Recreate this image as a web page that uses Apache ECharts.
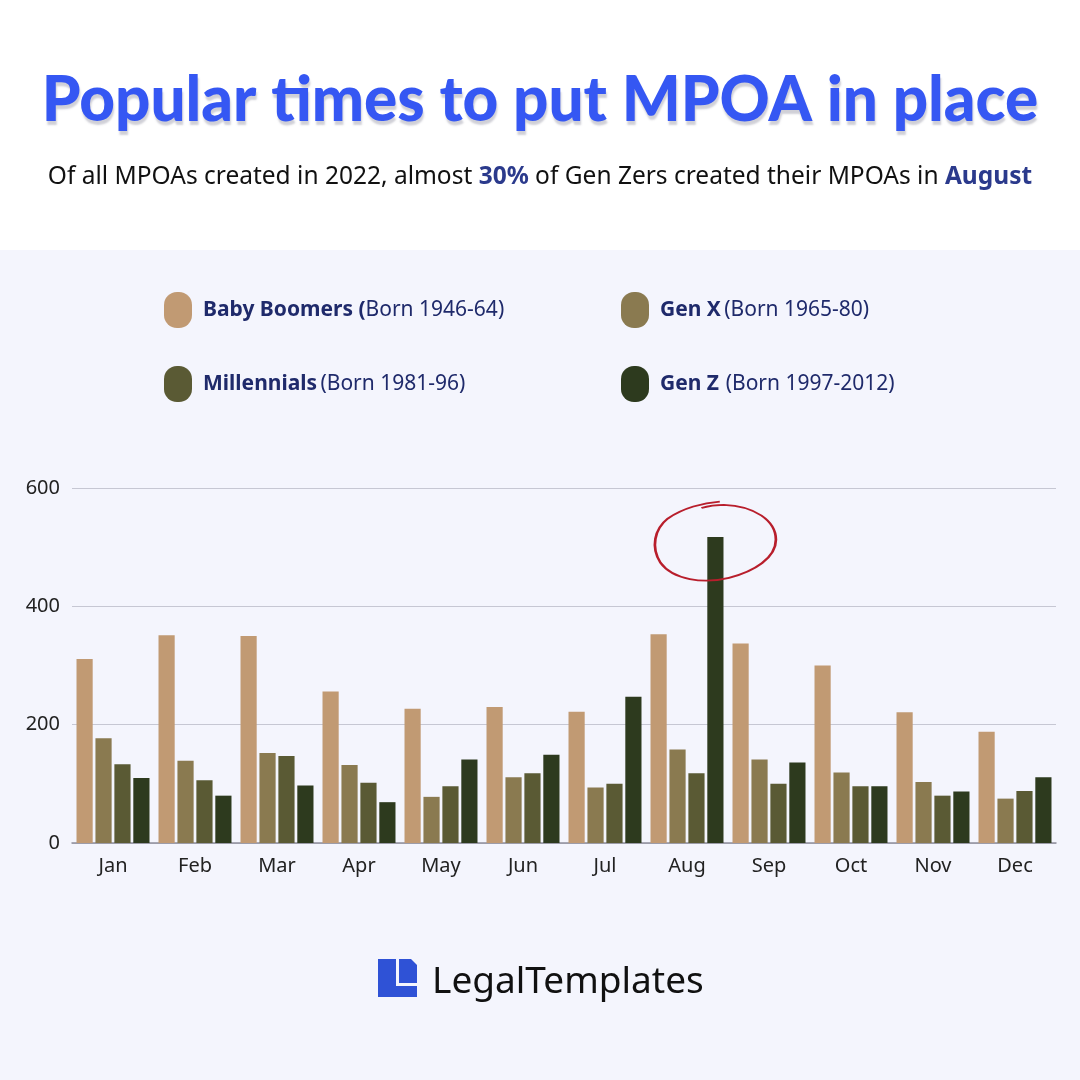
<!DOCTYPE html>
<html>
<head>
<meta charset="utf-8">
<style>
  html, body { margin: 0; padding: 0; background: #fff; }
  #main { width: 1080px; height: 1080px; }
</style>
<script src="https://cdn.jsdelivr.net/npm/echarts@6/dist/echarts.min.js"></script>
</head>
<body>
<div id="main"></div>
<script>
  var months = ['Jan', 'Feb', 'Mar', 'Apr', 'May', 'Jun', 'Jul', 'Aug', 'Sep', 'Oct', 'Nov', 'Dec'];
  var boomers = [311, 351, 350, 256, 227, 230, 222, 353, 337, 300, 221, 188];
  var genX = [177, 139, 152, 132, 78, 111, 94, 158, 141, 119, 103, 75];
  var millennials = [133, 106, 147, 102, 96, 118, 100, 118, 100, 96, 80, 88];
  var genZ = [110, 80, 97, 69, 141, 149, 247, 517, 136, 96, 87, 111];
  var yTicks = [0, 200, 400, 600];

  var colors = ['#c19a73', '#8a7a50', '#5a5a34', '#2d3a1e'];
  var navy = '#1f2a6b';
  var pill = 'path://M0,13A13,13 0 0 1 13,0L15,0A13,13 0 0 1 28,13L28,23A13,13 0 0 1 15,36L13,36A13,13 0 0 1 0,23Z';
  // hand drawn loop around the August peak
  var loop = 'path://M66,2C50,3 30,8 15,18C2,28 -2,45 8,60C20,76 50,80 75,74C100,68 121,55 121,38C121,20 100,6 70,5C62,5 55,6 48,8';

  var legendRich = {
    b: { fontFamily: 'Noto Sans', fontWeight: 'bold', fontSize: 21, color: navy },
    n: { fontFamily: 'Noto Sans', fontSize: 21, color: navy }
  };

  var chart = echarts.init(document.getElementById('main'), null, { renderer: 'canvas' });

  var option = {
    backgroundColor: '#fff',
    animation: false,
    graphic: [
      { type: 'rect', left: 0, top: 250, shape: { width: 1080, height: 830 }, style: { fill: '#f4f5fd' }, z: -10 },
      {
        type: 'text', left: 'center', top: 70,
        style: {
          text: 'Popular times to put MPOA in place',
          font: '900 62px Lato, sans-serif', fill: '#3557f3',
          textShadowColor: 'rgba(120,120,140,0.35)', textShadowOffsetX: 1, textShadowOffsetY: 4, textShadowBlur: 2
        }
      },
      {
        type: 'text', left: 'center', top: 165,
        style: {
          text: '{n|Of all MPOAs created in 2022, almost }{b|30%}{n| of Gen Zers created their MPOAs in }{b|August}',
          rich: {
            n: { fontFamily: 'Noto Sans', fontSize: 24.5, fill: '#111' },
            b: { fontFamily: 'Noto Sans', fontSize: 24.5, fontWeight: 'bold', fill: '#2b3a8c' }
          }
        }
      },
      // logo mark
      { type: 'polygon', shape: { points: [[378, 959], [396, 959], [396, 986], [417, 986], [417, 997], [378, 997]] }, style: { fill: '#2f52d6' } },
      { type: 'polygon', shape: { points: [[399, 959], [411, 959], [417, 965], [417, 983], [399, 983]] }, style: { fill: '#2f52d6' } },
      {
        type: 'text', left: 432, top: 964,
        style: { text: 'LegalTemplates', font: '37px "Noto Sans", sans-serif', fill: '#111' }
      }
    ],
    legend: [
      {
        left: 159, top: 287, orient: 'vertical', itemGap: 38,
        itemWidth: 28, itemHeight: 36, icon: pill,
        data: ['Baby Boomers', 'Millennials'],
        formatter: function (name) {
          return name === 'Baby Boomers'
            ? '{b|Baby Boomers (}{n|Born 1946-64)}'
            : '{b|Millennials} {n|(Born 1981-96)}';
        },
        textStyle: { rich: legendRich, padding: [0, 0, 0, 6] }
      },
      {
        left: 616, top: 287, orient: 'vertical', itemGap: 38,
        itemWidth: 28, itemHeight: 36, icon: pill,
        data: ['Gen X', 'Gen Z'],
        formatter: function (name) {
          return name === 'Gen X'
            ? '{b|Gen X} {n|(Born 1965-80)}'
            : '{b|Gen Z}  {n|(Born 1997-2012)}';
        },
        textStyle: { rich: legendRich, padding: [0, 0, 0, 6] }
      }
    ],
    grid: { left: 72, right: 24, top: 488, bottom: 237 },
    xAxis: {
      type: 'category',
      data: months,
      axisTick: { show: false },
      axisLine: { lineStyle: { color: '#8e8e9c', width: 1.5 } },
      axisLabel: { color: '#222', fontFamily: 'Noto Sans', fontSize: 20, margin: 13 }
    },
    yAxis: {
      type: 'value',
      min: yTicks[0], max: yTicks[yTicks.length - 1], interval: yTicks[1] - yTicks[0],
      axisLabel: { color: '#222', fontFamily: 'Noto Sans', fontSize: 20, margin: 12 },
      splitLine: { lineStyle: { color: '#c6c7d3' } }
    },
    series: [
      { name: 'Baby Boomers', type: 'bar', data: boomers, itemStyle: { color: colors[0] }, barGap: '17%', barCategoryGap: '11%' },
      { name: 'Gen X', type: 'bar', data: genX, itemStyle: { color: colors[1] } },
      { name: 'Millennials', type: 'bar', data: millennials, itemStyle: { color: colors[2] } },
      {
        name: 'Gen Z', type: 'bar', data: genZ, itemStyle: { color: colors[3] },
        markPoint: {
          symbol: loop,
          symbolSize: [121, 79],
          symbolOffset: [0, 4],
          itemStyle: { color: 'transparent', borderColor: '#b81e2c', borderWidth: 2.2 },
          label: { show: false },
          data: [{ type: 'max' }]
        }
      }
    ]
  };

  chart.setOption(option);
</script>
</body>
</html>
